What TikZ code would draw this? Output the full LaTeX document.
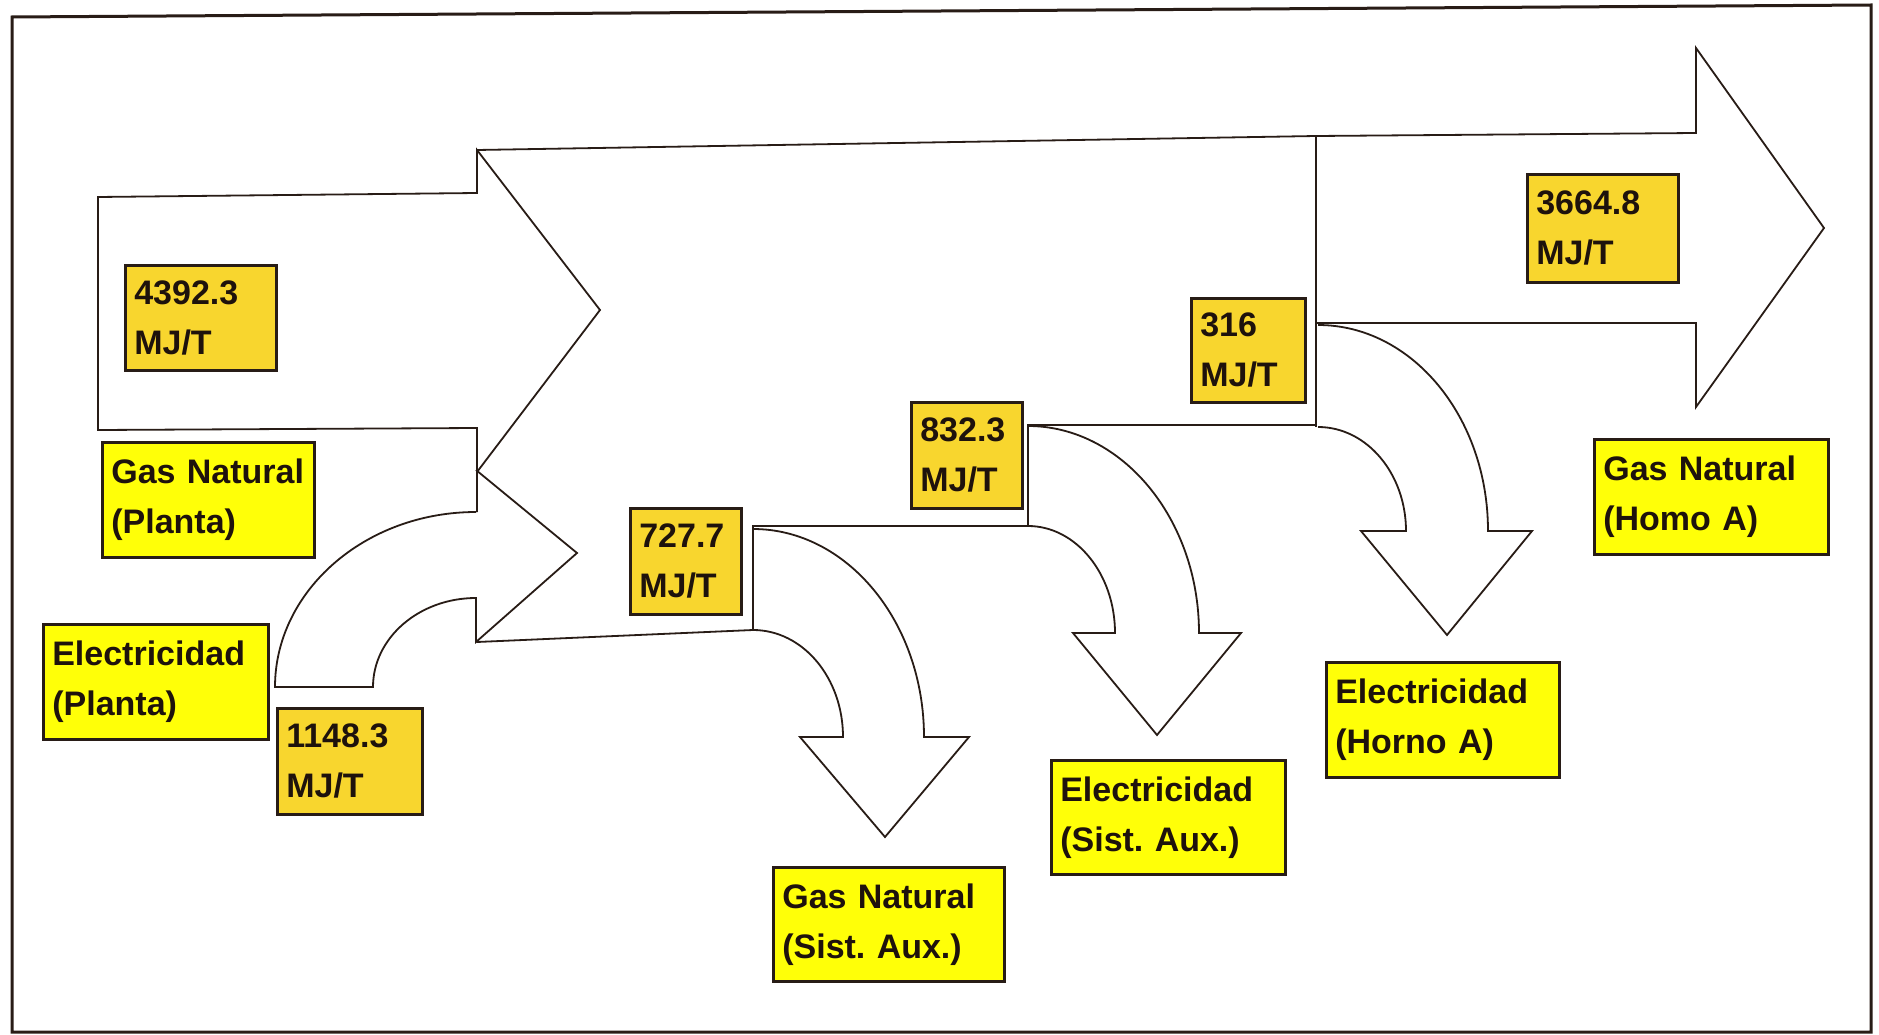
\documentclass[tikz,border=0pt]{standalone}
\usepackage{fontspec}
\setmainfont{Liberation Sans}
\definecolor{valfill}{RGB}{248,214,46}
\definecolor{labfill}{RGB}{255,255,8}
\definecolor{edge}{RGB}{40,28,22}
\definecolor{ink}{RGB}{30,18,12}
\frenchspacing
\begin{document}
\begin{tikzpicture}[x=1pt,y=-1pt,
  flow/.style={draw=edge, line width=1.8pt, line join=miter},
  frame/.style={draw=edge, line width=3pt},
  boxbase/.style={draw=edge, line width=2.6pt, anchor=north west, inner xsep=9pt, inner ysep=0pt,
    align=left, font=\fontsize{34pt}{50pt}\selectfont\bfseries\frenchspacing, text=ink},
  valbox/.style={boxbase, fill=valfill},
  labbox/.style={boxbase, fill=labfill}]
\fill[white] (0,0) rectangle (1879,1035);
\useasboundingbox (0,0) rectangle (1879,1035);
% outer frame
\draw[frame] (12,17) -- (1871,5) -- (1871,1032) -- (12,1032) -- cycle;

% first arrow (Gas Natural, Planta)
\draw[flow] (477,512) -- (477,428) -- (98,430) -- (98,197) -- (477,193) -- (477,150) -- (600,310) -- (477,472);
% main band top and final arrow
\draw[flow] (477,150) -- (1316,136) -- (1696,133) -- (1696,48) -- (1824,228) -- (1696,407) -- (1696,323) -- (1316,323);
\draw[flow] (1316,136) -- (1316,427);
% main band bottom with steps
\draw[flow] (477,642) -- (753,630) -- (753,526) -- (1028,526) -- (1028,425) -- (1316,425);
% curved arrow: Electricidad (Planta)
\draw[flow] (476,512) .. controls (365,512) and (275,591) .. (275,687) -- (373,687)
  .. controls (373,638) and (419,598) .. (476,598) -- (476,642) -- (577,553) -- (476,470);
% branch 727.7
\draw[flow] (753,529) .. controls (847,529) and (924,622) .. (924,737) -- (969,737) -- (885,837) -- (800,737) -- (843,737)
  .. controls (843,678) and (803,630) .. (753,630);
% branch 832.3
\draw[flow] (1028,426) .. controls (1122,426) and (1199,519) .. (1199,633) -- (1241,633) -- (1157,735) -- (1073,633) -- (1115,633)
  .. controls (1115,574) and (1076,526) .. (1028,526);
% branch 316
\draw[flow] (1318,325) .. controls (1412,325) and (1488,417) .. (1488,531) -- (1532,531) -- (1447,635) -- (1361,531) -- (1406,531)
  .. controls (1406,474) and (1367,427) .. (1318,427);

% value boxes
\node[valbox, text width=133pt, minimum height=105pt] (v1) at (124,264) {4392.3\\MJ/T};
\node[valbox, text width=127pt, minimum height=106pt] (v2) at (276,707) {1148.3\\MJ/T};
\node[valbox, text width=93pt, minimum height=106pt] (v3) at (629,507) {727.7\\MJ/T};
\node[valbox, text width=93pt, minimum height=106pt] (v4) at (910,401) {832.3\\MJ/T};
\node[valbox, text width=96pt, minimum height=104pt] (v5) at (1190,297) {316\\MJ/T};
\node[valbox, text width=133pt, minimum height=108pt] (v6) at (1526,173) {3664.8\\MJ/T};

% label boxes
\node[labbox, text width=194pt, minimum height=115pt] (gnp) at (101,441) {Gas Natural\\(Planta)};
\node[labbox, text width=207pt, minimum height=115pt] (ep) at (42,623) {Electricidad\\(Planta)};
\node[labbox, text width=213pt, minimum height=114pt] (gns) at (772,866) {Gas Natural\\(Sist. Aux.)};
\node[labbox, text width=216pt, minimum height=114pt] (es) at (1050,759) {Electricidad\\(Sist. Aux.)};
\node[labbox, text width=215pt, minimum height=115pt] (eh) at (1325,661) {Electricidad\\(Horno A)};
\node[labbox, text width=216pt, minimum height=115pt] (gnh) at (1593,438) {Gas Natural\\(Homo A)};
\end{tikzpicture}
\end{document}
